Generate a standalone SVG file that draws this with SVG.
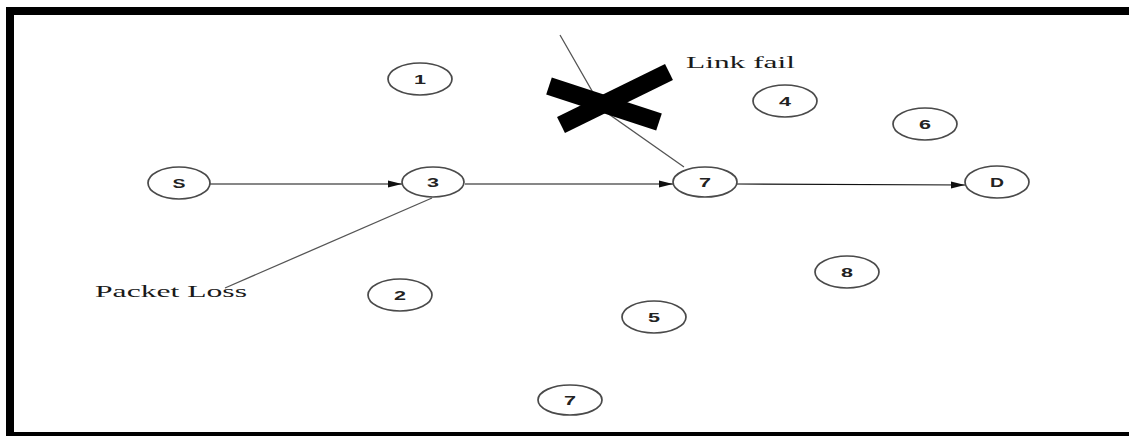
<svg xmlns="http://www.w3.org/2000/svg" width="1129" height="436" viewBox="0 0 1129 436">
<style>
.node ellipse{fill:#fff;stroke:#4a4a4a;stroke-width:1.7}
.node text{font-family:"Liberation Sans",Arial,sans-serif;font-size:12.5px;font-weight:bold;fill:#222;text-anchor:middle}
.lbl{font-family:"Liberation Serif","Times New Roman",serif;font-size:17px;fill:#1a1a1a}
.edge{stroke:#111;stroke-width:1.2;fill:none}
.thin{stroke:#555;stroke-width:1.3;fill:none}
</style>
<defs>
<marker id="arr" markerWidth="14" markerHeight="8" refX="14" refY="4" orient="auto" markerUnits="userSpaceOnUse">
<path d="M0,0.5 L14,4 L0,7.5 Z" fill="#111"/>
</marker>
</defs>
<rect width="1129" height="436" fill="#fff"/>
<g id="frame" fill="#000">
<rect x="6" y="7" width="1123" height="8"/>
<rect x="6" y="7" width="8" height="429"/>
<rect x="6" y="432" width="1123" height="4"/>
</g>
<g id="connectors">
<line class="edge" x1="210" y1="184" x2="402" y2="184" marker-end="url(#arr)"/>
<line class="edge" x1="465" y1="184" x2="673" y2="184" marker-end="url(#arr)"/>
<line class="edge" x1="737" y1="184" x2="965" y2="185" marker-end="url(#arr)"/>
<line class="thin" x1="432" y1="198" x2="225" y2="288"/>
<polyline class="thin" points="560,35 603,110 684,167"/>
</g>
<g id="cross" stroke="#000" stroke-width="18" fill="none">
<line x1="669" y1="72" x2="561" y2="125"/>
<line x1="549" y1="86" x2="659" y2="122"/>
</g>
<g id="node-S" class="node"><ellipse cx="179" cy="183" rx="31" ry="16"/><text x="179" y="188" textLength="13" lengthAdjust="spacingAndGlyphs">S</text></g>
<g id="node-1" class="node"><ellipse cx="420" cy="79" rx="32" ry="16"/><text x="420" y="84" textLength="12" lengthAdjust="spacingAndGlyphs">1</text></g>
<g id="node-3" class="node"><ellipse cx="433" cy="182" rx="31" ry="15"/><text x="433" y="187" textLength="12" lengthAdjust="spacingAndGlyphs">3</text></g>
<g id="node-7a" class="node"><ellipse cx="705" cy="182" rx="32" ry="15"/><text x="705" y="187" textLength="12" lengthAdjust="spacingAndGlyphs">7</text></g>
<g id="node-4" class="node"><ellipse cx="785" cy="101" rx="32" ry="16"/><text x="785" y="106" textLength="12" lengthAdjust="spacingAndGlyphs">4</text></g>
<g id="node-6" class="node"><ellipse cx="925" cy="124" rx="32" ry="16"/><text x="925" y="129" textLength="12" lengthAdjust="spacingAndGlyphs">6</text></g>
<g id="node-D" class="node"><ellipse cx="997" cy="182" rx="32" ry="16"/><text x="997" y="187" textLength="14" lengthAdjust="spacingAndGlyphs">D</text></g>
<g id="node-8" class="node"><ellipse cx="847" cy="272" rx="32" ry="16"/><text x="847" y="277" textLength="12" lengthAdjust="spacingAndGlyphs">8</text></g>
<g id="node-2" class="node"><ellipse cx="400" cy="295" rx="32" ry="16"/><text x="400" y="300" textLength="12" lengthAdjust="spacingAndGlyphs">2</text></g>
<g id="node-5" class="node"><ellipse cx="654" cy="317" rx="32" ry="16"/><text x="654" y="322" textLength="12" lengthAdjust="spacingAndGlyphs">5</text></g>
<g id="node-7b" class="node"><ellipse cx="570" cy="400" rx="32" ry="15"/><text x="570" y="405" textLength="12" lengthAdjust="spacingAndGlyphs">7</text></g>
<g id="labels">
<text class="lbl" x="686" y="68" textLength="109" lengthAdjust="spacingAndGlyphs">Link fail</text>
<text class="lbl" x="95" y="297" textLength="152" lengthAdjust="spacingAndGlyphs">Packet Loss</text>
</g>
</svg>
